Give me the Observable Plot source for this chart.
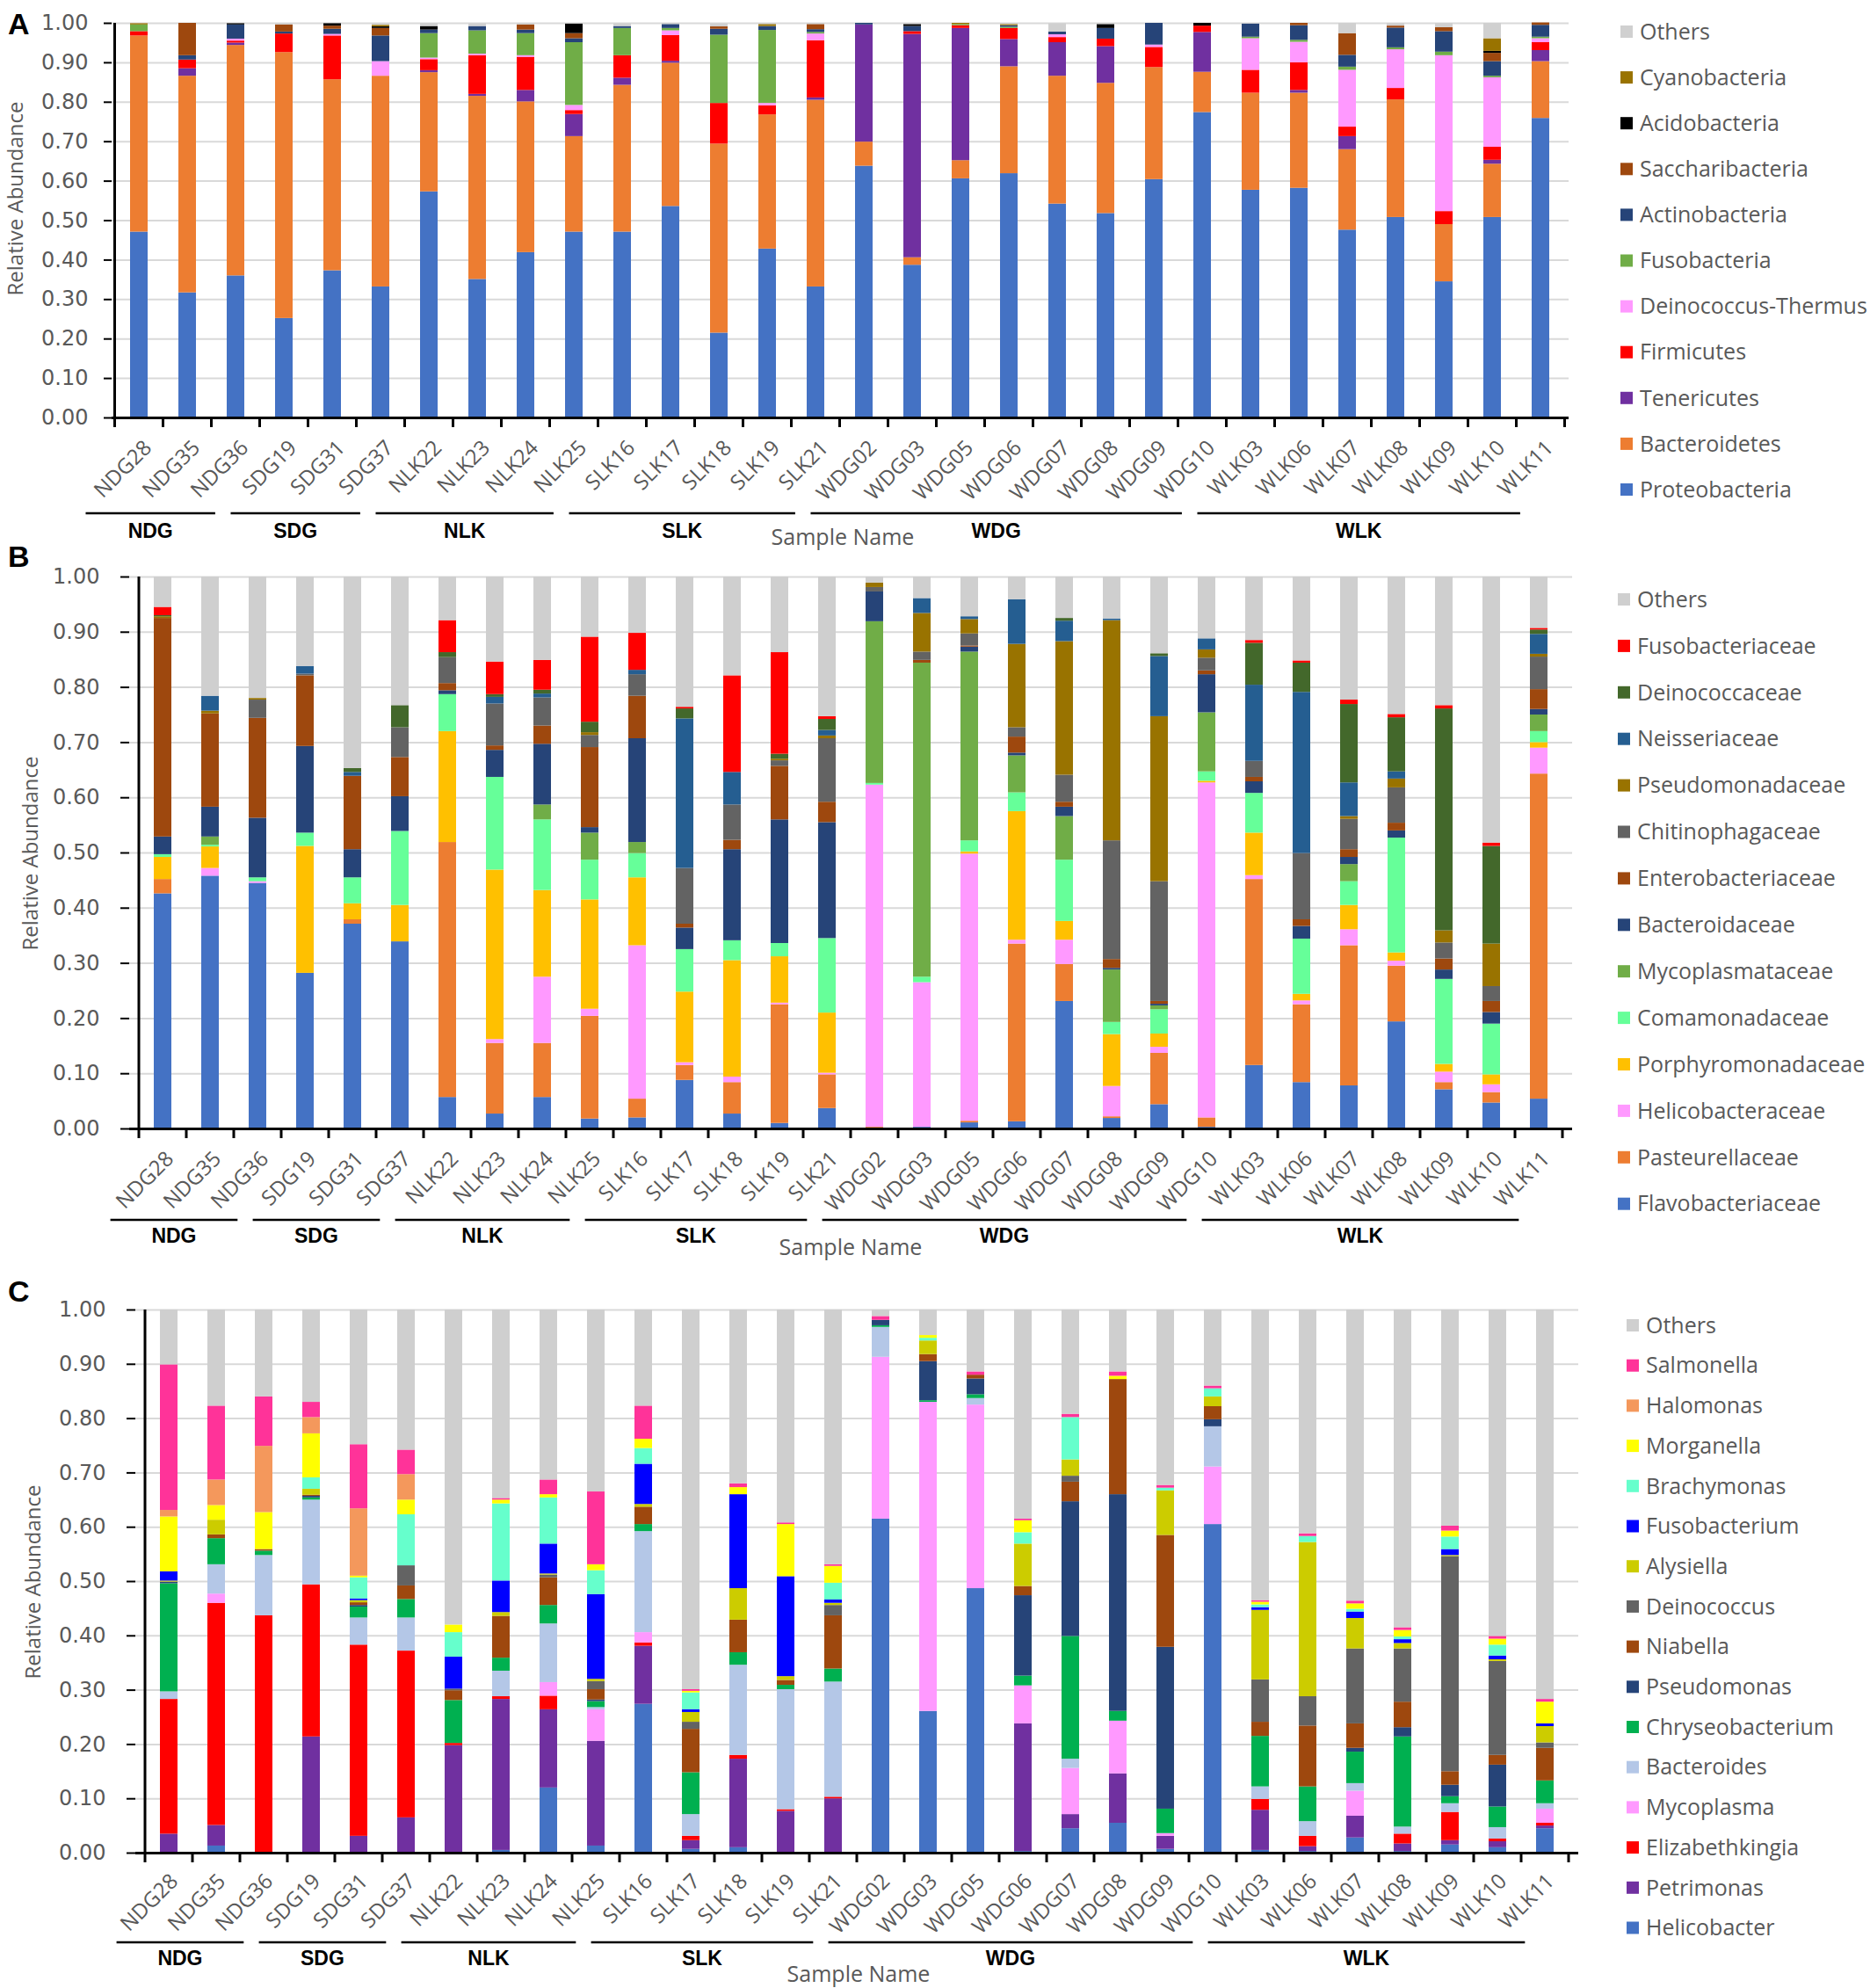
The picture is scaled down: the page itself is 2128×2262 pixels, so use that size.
<!DOCTYPE html>
<html><head><meta charset="utf-8">
<script src="https://cdn.jsdelivr.net/npm/d3@7"></script>
<script src="https://cdn.jsdelivr.net/npm/@observablehq/plot@0.6"></script>
<style>
body{margin:0;background:#fff;}
#root{position:relative;width:2128px;height:2262px;overflow:hidden;background:#fff;}
#root svg{position:absolute;left:0;top:0;}
</style></head><body><div id="root"></div>
<script>
// ---------- categories ----------
const samples = ["NDG28","NDG35","NDG36","SDG19","SDG31","SDG37","NLK22","NLK23","NLK24","NLK25","SLK16","SLK17","SLK18","SLK19","SLK21","WDG02","WDG03","WDG05","WDG06","WDG07","WDG08","WDG09","WDG10","WLK03","WLK06","WLK07","WLK08","WLK09","WLK10","WLK11"];
const groupNames = ["NDG","SDG","NLK","SLK","WDG","WLK"];
const groupSizes = [3,3,4,5,8,7];
const yTicks = [0,0.1,0.2,0.3,0.4,0.5,0.6,0.7,0.8,0.9,1.0];

// ---------- Panel A : phylum (bottom -> top) ----------
const phylaA = ["Proteobacteria","Bacteroidetes","Tenericutes","Firmicutes","Deinococcus-Thermus","Fusobacteria","Actinobacteria","Saccharibacteria","Acidobacteria","Cyanobacteria","Others"];
const colorsA = ["#4472C4","#ED7D31","#7030A0","#FF0000","#FF99FF","#70AD47","#264478","#9E480E","#000000","#997300","#D0D0D0"];
const aProteobacteria = [0.471,0.317,0.360,0.252,0.373,0.332,0.573,0.351,0.419,0.471,0.471,0.536,0.215,0.428,0.332,0.638,0.387,0.606,0.619,0.542,0.518,0.604,0.774,0.577,0.582,0.476,0.508,0.345,0.508,0.759];
const aBacteroidetes = [0.497,0.549,0.584,0.674,0.484,0.534,0.302,0.464,0.382,0.242,0.372,0.363,0.479,0.340,0.473,0.061,0.019,0.046,0.271,0.324,0.330,0.284,0.102,0.246,0.241,0.204,0.298,0.145,0.135,0.144];
const aTenericutes = [0,0.019,0.006,0,0,0,0.005,0.005,0.029,0.056,0.018,0.005,0,0,0.006,0.297,0.566,0.335,0.069,0.085,0.093,0,0.101,0,0.007,0.033,0,0,0.010,0.028];
const aFirmicutes = [0.011,0.022,0.005,0.047,0.111,0,0.028,0.098,0.084,0.010,0.057,0.065,0.103,0.023,0.145,0,0.007,0.007,0.028,0.013,0.019,0.051,0.016,0.058,0.070,0.024,0.029,0.033,0.033,0.020];
const aDeinococcusThermus = [0,0,0.005,0,0.004,0.037,0.004,0.004,0.004,0.013,0,0.012,0,0.006,0.017,0,0,0,0,0.007,0,0.006,0,0.080,0.052,0.144,0.098,0.395,0.176,0.010];
const aFusobacteria = [0.017,0,0,0,0,0,0.062,0.059,0.056,0.159,0.069,0.006,0.173,0.185,0.004,0,0,0.003,0.003,0,0,0,0,0.004,0.005,0.008,0.005,0.009,0.004,0.004];
const aActinobacteria = [0,0.011,0.036,0.005,0.013,0.065,0.009,0.011,0.009,0.010,0.005,0.010,0.015,0.010,0.007,0.004,0.013,0,0.004,0.007,0.027,0.055,0,0.033,0.037,0.030,0.050,0.052,0.037,0.030];
const aSaccharibacteria = [0,0.082,0,0.018,0.008,0.019,0,0,0.013,0.013,0,0,0.006,0,0.013,0,0,0,0,0,0,0,0,0,0.006,0.055,0.005,0.010,0.021,0.006];
const aAcidobacteria = [0,0,0.003,0,0.006,0.004,0.009,0,0,0.024,0,0,0,0,0,0,0.005,0,0,0,0.010,0,0.007,0,0,0,0,0,0.005,0];
const aCyanobacteria = [0.003,0,0,0,0,0.004,0,0,0,0,0,0,0,0.005,0,0,0,0.003,0.003,0,0,0,0,0,0,0,0,0,0.032,0];
const aOthers = [0,0,0,0.004,0,0.004,0.008,0.007,0.004,0,0.007,0.003,0.008,0.003,0.003,0,0.003,0,0.003,0.021,0.003,0,0,0,0,0.026,0.007,0.011,0.039,0];

// ---------- Panel B : family (bottom -> top) ----------
const familiesB = ["Flavobacteriaceae","Pasteurellaceae","Helicobacteraceae","Porphyromonadaceae","Comamonadaceae","Mycoplasmataceae","Bacteroidaceae","Enterobacteriaceae","Chitinophagaceae","Pseudomonadaceae","Neisseriaceae","Deinococcaceae","Fusobacteriaceae","Others"];
const colorsB = ["#4472C4","#ED7D31","#FF99FF","#FFC000","#66FF99","#70AD47","#264478","#9E480E","#636363","#997300","#255E91","#43682B","#FF0000","#CFCFCF"];
const bFlavobacteriaceae = [0.426,0.458,0.445,0.282,0.371,0.339,0.057,0.027,0.057,0.018,0.020,0.088,0.027,0.010,0.037,0,0.003,0.011,0.013,0.231,0.019,0.044,0.003,0.115,0.084,0.078,0.194,0.071,0.047,0.054];
const bPasteurellaceae = [0.026,0,0,0,0.008,0,0.462,0.128,0.098,0.186,0.034,0.027,0.057,0.215,0.061,0.003,0,0.003,0.322,0.067,0.003,0.093,0.017,0.337,0.141,0.254,0.101,0.013,0.019,0.589];
const bHelicobacteraceae = [0,0.014,0.003,0,0,0,0,0.007,0.120,0.013,0.278,0.005,0.010,0.003,0.003,0.620,0.262,0.484,0.007,0.044,0.055,0.011,0.607,0.007,0.007,0.029,0.009,0.019,0.014,0.047];
const bPorphyromonadaceae = [0.040,0.039,0,0.230,0.029,0.066,0.201,0.307,0.157,0.198,0.123,0.128,0.211,0.084,0.109,0,0,0.004,0.233,0.034,0.094,0.024,0.003,0.077,0.012,0.044,0.015,0.014,0.018,0.010];
const bComamonadaceae = [0.005,0.003,0.007,0.024,0.047,0.134,0.067,0.168,0.128,0.072,0.044,0.077,0.036,0.024,0.135,0.003,0.010,0.020,0.034,0.111,0.022,0.044,0.017,0.072,0.100,0.043,0.208,0.154,0.092,0.020];
const bMycoplasmataceae = [0,0.015,0,0,0,0,0,0,0.027,0.049,0.020,0,0,0,0,0.293,0.569,0.342,0.067,0.079,0.095,0.007,0.107,0,0,0.031,0,0,0,0.030];
const bBacteroidaceae = [0.032,0.054,0.108,0.157,0.051,0.063,0.007,0.049,0.110,0.010,0.188,0.039,0.165,0.224,0.210,0.054,0,0.009,0.005,0.017,0.003,0.003,0.069,0.021,0.023,0.013,0.013,0.017,0.021,0.010];
const bEnterobacteriaceae = [0.396,0.169,0.181,0.128,0.133,0.071,0.013,0.008,0.033,0.145,0.077,0.007,0.017,0.097,0.037,0,0.005,0.002,0.029,0.009,0.016,0.005,0.007,0.008,0.012,0.014,0.014,0.020,0.020,0.036];
const bChitinophagaceae = [0,0,0.033,0.003,0,0.054,0.047,0.076,0.051,0.022,0.039,0.101,0.064,0.010,0.115,0.008,0.015,0.022,0.017,0.049,0.215,0.217,0.023,0.029,0.120,0.055,0.064,0.029,0.027,0.059];
const bPseudomonadaceae = [0.003,0.005,0.003,0,0,0,0,0,0,0.005,0,0,0,0.003,0.005,0.008,0.070,0.026,0.151,0.242,0.399,0.299,0.015,0,0,0.005,0.016,0.022,0.077,0.005];
const bNeisseriaceae = [0,0.027,0,0.014,0.007,0,0,0.012,0.007,0,0.008,0.271,0.059,0,0.010,0,0.027,0.005,0.081,0.037,0.003,0.109,0.020,0.138,0.292,0.061,0.013,0,0,0.036];
const bDeinococcaceae = [0.002,0,0,0,0.007,0.040,0.009,0.005,0.007,0.019,0,0.018,0,0.009,0.020,0,0,0,0,0.005,0,0.005,0,0.076,0.053,0.142,0.098,0.402,0.177,0.008];
const bFusobacteriaceae = [0.015,0,0,0,0,0,0.058,0.059,0.054,0.154,0.067,0.003,0.175,0.184,0.005,0,0,0,0,0,0,0,0,0.005,0.004,0.008,0.006,0.006,0.006,0.003];
const bOthers = [0.055,0.216,0.220,0.162,0.347,0.233,0.079,0.154,0.151,0.109,0.102,0.236,0.179,0.137,0.253,0.011,0.039,0.072,0.041,0.075,0.076,0.139,0.112,0.115,0.152,0.223,0.249,0.233,0.482,0.093];

// ---------- Panel C : genus (bottom -> top) ----------
const generaC = ["Helicobacter","Petrimonas","Elizabethkingia","Mycoplasma","Bacteroides","Chryseobacterium","Pseudomonas","Niabella","Deinococcus","Alysiella","Fusobacterium","Brachymonas","Morganella","Halomonas","Salmonella","Others"];
const colorsC = ["#4472C4","#7030A0","#FF0000","#FF99FF","#B4C7E7","#00B050","#264478","#9E480E","#636363","#CCCC00","#0000FF","#66FFCC","#FFFF00","#F4985C","#FF3399","#CFCFCF"];
const cHelicobacter = [0,0.013,0,0,0,0,0,0.005,0.120,0.013,0.274,0.007,0.010,0,0,0.615,0.261,0.487,0.003,0.045,0.055,0.007,0.605,0.005,0.003,0.028,0.003,0.015,0.010,0.045];
const cPetrimonas = [0.035,0.038,0,0.214,0.031,0.065,0.198,0.278,0.144,0.193,0.107,0.016,0.163,0.077,0.100,0,0,0,0.235,0.026,0.091,0.024,0,0.074,0.009,0.040,0.014,0.008,0.011,0.005];
const cElizabethkingia = [0.248,0.409,0.437,0.280,0.352,0.307,0.004,0.005,0.025,0,0.006,0.008,0.007,0.003,0.003,0,0,0,0,0,0,0,0,0.020,0.019,0,0.018,0.052,0.005,0.005];
const cMycoplasma = [0,0.017,0,0,0,0,0,0,0.025,0.058,0.019,0,0,0,0,0.298,0.569,0.338,0.070,0.085,0.097,0.005,0.106,0,0,0.046,0,0,0,0.026];
const cBacteroides = [0.014,0.054,0.111,0.156,0.050,0.061,0,0.047,0.108,0.004,0.186,0.040,0.166,0.221,0.212,0.055,0,0.012,0,0.017,0,0,0.074,0.023,0.027,0.014,0.013,0.016,0.021,0.010];
const cChryseobacterium = [0.199,0.048,0.008,0.004,0.020,0.034,0.079,0.024,0.034,0.011,0.013,0.077,0.023,0.008,0.024,0.003,0.003,0.007,0.018,0.226,0.018,0.045,0,0.093,0.064,0.058,0.166,0.013,0.038,0.042];
const cPseudomonas = [0.003,0,0,0.003,0.003,0,0,0,0,0.003,0,0,0,0,0,0.010,0.072,0.029,0.148,0.248,0.399,0.298,0.013,0,0,0.007,0.017,0.021,0.077,0];
const cNiabella = [0,0.007,0.003,0.002,0.005,0.025,0.018,0.077,0.051,0.019,0.032,0.080,0.060,0.009,0.098,0,0.013,0.007,0.017,0.036,0.212,0.206,0.024,0.026,0.112,0.045,0.047,0.025,0.018,0.060];
const cDeinococcus = [0,0,0,0,0,0.037,0.003,0,0.005,0.015,0,0.013,0,0,0.019,0,0,0,0,0.011,0,0,0,0.078,0.054,0.138,0.098,0.396,0.173,0.010];
const cAlysiella = [0.002,0.027,0,0.011,0.004,0,0,0.007,0.002,0.004,0.005,0.018,0.058,0.007,0.004,0,0.025,0,0.078,0.030,0,0.082,0.018,0.128,0.284,0.056,0.010,0.002,0.003,0.030];
const cFusobacterium = [0.017,0,0,0,0.003,0,0.059,0.058,0.055,0.156,0.074,0.005,0.173,0.184,0.006,0,0,0,0,0,0,0,0,0.005,0,0.012,0.007,0.011,0.007,0.005];
const cBrachymonas = [0,0,0,0.021,0.039,0.094,0.045,0.142,0.085,0.044,0.029,0.031,0,0,0.031,0,0.005,0,0.021,0.078,0,0.005,0.015,0.005,0.011,0.005,0.005,0.023,0.020,0];
const cMorganella = [0.101,0.027,0.068,0.081,0.003,0.027,0.014,0.007,0.006,0.011,0.017,0.003,0.013,0.096,0.031,0,0.005,0,0.022,0,0.006,0,0,0.005,0,0.010,0.012,0.011,0.011,0.040];
const cHalomonas = [0.012,0.047,0.122,0.030,0.124,0.047,0,0,0,0,0,0,0,0,0,0,0,0,0,0,0,0,0,0,0,0,0,0,0,0];
const cSalmonella = [0.268,0.136,0.091,0.028,0.118,0.045,0,0.003,0.027,0.134,0.061,0.003,0.007,0.003,0.003,0.007,0,0.006,0.003,0.006,0.008,0.005,0.005,0.003,0.005,0.005,0.005,0.009,0.005,0.005];
const cOthers = [0.101,0.177,0.160,0.170,0.248,0.258,0.580,0.347,0.313,0.335,0.177,0.699,0.320,0.392,0.469,0.012,0.047,0.114,0.385,0.192,0.114,0.323,0.140,0.535,0.412,0.536,0.585,0.398,0.601,0.717];

// ---------- helpers ----------
function tidy(names, arrays) {
  const rows = [];
  names.forEach((name, k) => arrays[k].forEach((v, i) => rows.push({sample: samples[i], taxon: name, value: v})));
  return rows;
}

const W = 2128, H = 2262;
const root = document.getElementById("root");

function drawPanel(cfg) {
  const rows = tidy(cfg.names, cfg.values);
  const chart = Plot.plot({
    width: W, height: H,
    marginTop: cfg.top, marginBottom: H - cfg.bottom,
    marginLeft: cfg.left, marginRight: W - cfg.right,
    style: {background: "transparent", fontFamily: "Open Sans", overflow: "visible"},
    x: {domain: samples, paddingInner: 0.63, paddingOuter: 0.315, label: null, axis: null},
    y: {domain: [0, 1], label: null, axis: null},
    color: {domain: cfg.names, range: cfg.colors},
    marks: [
      Plot.gridY(yTicks, {stroke: "#d9d9d9", strokeOpacity: 1, strokeWidth: 2}),
      Plot.barY(rows, {x: "sample", y: "value", fill: "taxon"}),
      Plot.axisY(yTicks, {tickSize: cfg.tickSize, tickPadding: cfg.tickPadding, tickFormat: d3.format(".2f"),
        fontSize: 24, fontFamily: "DejaVu Sans", fill: "#595959", stroke: "#000", strokeWidth: 2, label: null}),
      Plot.axisX({tickRotate: -45, tickSize: 0, tickPadding: cfg.xPad, dx: cfg.xDx, fontSize: 24,
        fontFamily: "Open Sans", fill: "#595959", label: null}),
      Plot.ruleY([0], {stroke: "#000", strokeWidth: 3})
    ]
  });
  root.appendChild(chart);

  const svg = d3.select(chart);
  const xS = chart.scale("x"), yS = chart.scale("y");
  const n = samples.length;
  const step = xS.step || (xS.range[1] - xS.range[0]) / n;
  const bw = xS.bandwidth || step * 0.37;
  const cx = s => xS.apply(s) + bw / 2;
  const y0 = yS.apply(0), y1 = yS.apply(1);
  const g = svg.append("g").attr("text-anchor", "start");
  const left = cx(samples[0]) - step / 2;
  // left axis line
  g.append("line").attr("x1", left).attr("x2", left).attr("y1", y0 + 1.5).attr("y2", y1)
    .attr("stroke", "#000").attr("stroke-width", 3);
  // category boundary ticks
  for (let i = 0; i <= n; i++) {
    const bx = i < n ? cx(samples[i]) - step / 2 : cx(samples[n - 1]) + step / 2;
    g.append("line").attr("x1", bx).attr("x2", bx).attr("y1", y0).attr("y2", y0 + 11)
      .attr("stroke", "#000").attr("stroke-width", 3);
  }
  // group underlines and labels
  let k = 0;
  groupNames.forEach((name, gi) => {
    const first = samples[k], last = samples[k + groupSizes[gi] - 1];
    k += groupSizes[gi];
    const xa = cx(first) - 1.1 * step, xb = cx(last) - 0.42 * step;
    g.append("line").attr("x1", xa).attr("x2", xb).attr("y1", cfg.lineY).attr("y2", cfg.lineY)
      .attr("stroke", "#000").attr("stroke-width", 2.5);
    g.append("text").attr("x", (xa + xb) / 2).attr("y", cfg.groupY).attr("text-anchor", "middle")
      .attr("font-family", "Liberation Sans").attr("font-weight", "bold").attr("font-size", 23)
      .attr("fill", "#000").text(name);
  });
  // "Sample Name"
  g.append("text").attr("x", cfg.sampleX).attr("y", cfg.sampleY).attr("text-anchor", "middle")
    .attr("font-family", "Open Sans").attr("font-size", 25).attr("fill", "#595959").text("Sample Name");
  // y title
  g.append("text").attr("transform", `translate(${cfg.titleX},${cfg.titleY}) rotate(-90)`)
    .attr("text-anchor", "middle").attr("dy", "0.35em")
    .attr("font-family", "Open Sans").attr("font-size", 24).attr("fill", "#595959").text("Relative Abundance");
  // panel letter
  g.append("text").attr("x", cfg.letterX).attr("y", cfg.letterY).attr("text-anchor", "start")
    .attr("font-family", "Liberation Sans").attr("font-weight", "bold").attr("font-size", 34)
    .attr("fill", "#000").text(cfg.letter);
  // legend (top -> bottom = reversed stack order)
  const legNames = cfg.names.slice().reverse();
  const legColors = cfg.colors.slice().reverse();
  legNames.forEach((name, i) => {
    const yy = cfg.legY + i * cfg.legStep;
    g.append("rect").attr("x", cfg.legX).attr("y", yy - 7).attr("width", 14).attr("height", 14).attr("fill", legColors[i]);
    g.append("text").attr("x", cfg.legX + 22).attr("y", yy).attr("dy", "0.35em").attr("text-anchor", "start")
      .attr("font-family", "Open Sans").attr("font-size", 25).attr("fill", "#595959").text(name);
  });
}

drawPanel({
  letter: "A", letterX: 9, letterY: 39,
  names: phylaA, colors: colorsA,
  values: [aProteobacteria, aBacteroidetes, aTenericutes, aFirmicutes, aDeinococcusThermus, aFusobacteria, aActinobacteria, aSaccharibacteria, aAcidobacteria, aCyanobacteria, aOthers],
  top: 26, bottom: 475, left: 127, right: 1785,
  tickSize: 9, tickPadding: 18, xPad: 30, xDx: 10,
  lineY: 584, groupY: 612, sampleX: 959, sampleY: 620,
  titleX: 18, titleY: 226,
  legX: 1844, legY: 36, legStep: 52.1
});

drawPanel({
  letter: "B", letterX: 9, letterY: 645,
  names: familiesB, colors: colorsB,
  values: [bFlavobacteriaceae, bPasteurellaceae, bHelicobacteraceae, bPorphyromonadaceae, bComamonadaceae, bMycoplasmataceae, bBacteroidaceae, bEnterobacteriaceae, bChitinophagaceae, bPseudomonadaceae, bNeisseriaceae, bDeinococcaceae, bFusobacteriaceae, bOthers],
  top: 656, bottom: 1284, left: 147, right: 1789,
  tickSize: 10, tickPadding: 24, xPad: 30, xDx: 8,
  lineY: 1388, groupY: 1414, sampleX: 968, sampleY: 1428,
  titleX: 35, titleY: 971,
  legX: 1841, legY: 682, legStep: 52.9
});

drawPanel({
  letter: "C", letterX: 9, letterY: 1481,
  names: generaC, colors: colorsC,
  values: [cHelicobacter, cPetrimonas, cElizabethkingia, cMycoplasma, cBacteroides, cChryseobacterium, cPseudomonas, cNiabella, cDeinococcus, cAlysiella, cFusobacterium, cBrachymonas, cMorganella, cHalomonas, cSalmonella, cOthers],
  top: 1490, bottom: 2108, left: 154, right: 1796,
  tickSize: 10, tickPadding: 24, xPad: 28, xDx: 6,
  lineY: 2210, groupY: 2236, sampleX: 977, sampleY: 2255,
  titleX: 38, titleY: 1800,
  legX: 1851, legY: 1508, legStep: 45.7
});
</script></body></html>
